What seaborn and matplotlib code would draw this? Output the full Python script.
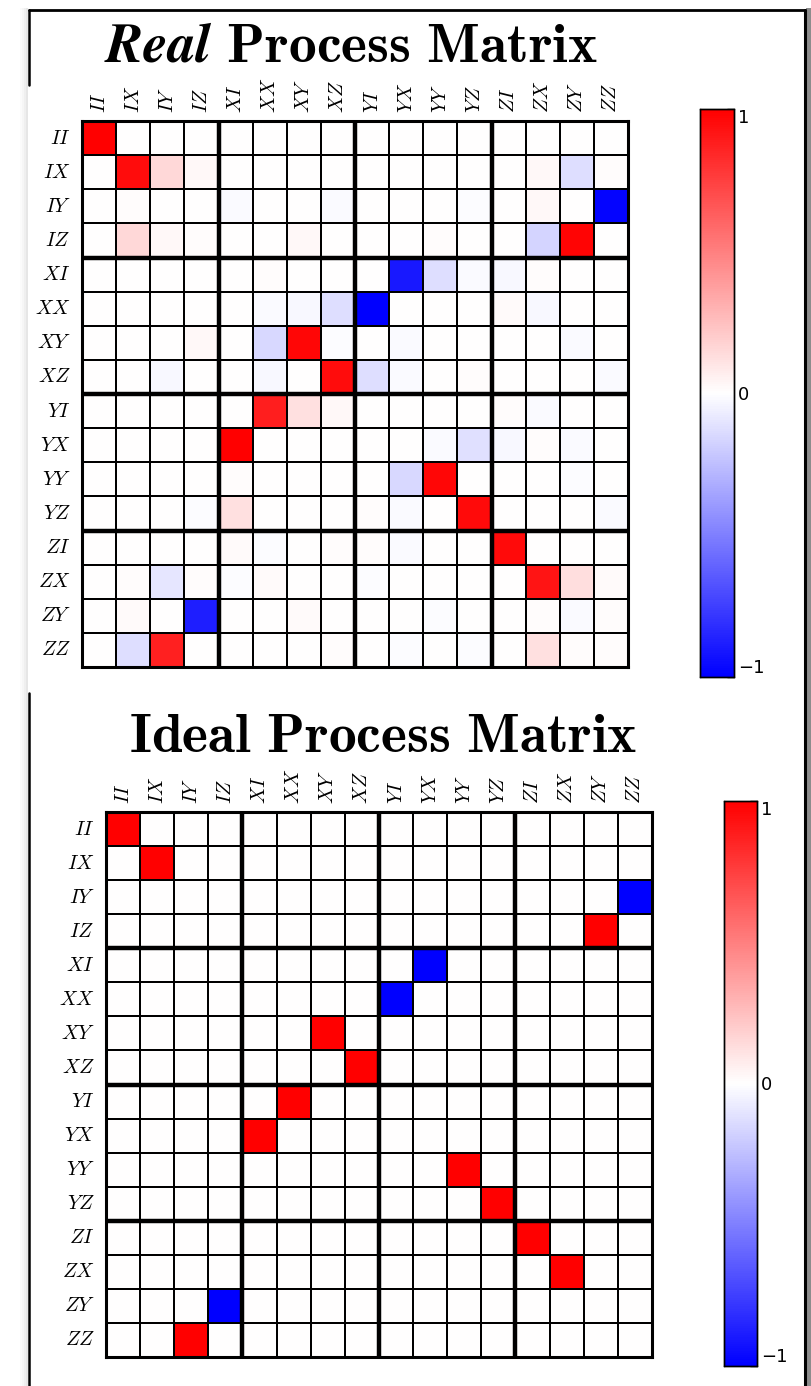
import numpy as np
import pandas as pd
import matplotlib
matplotlib.use('Agg')
import matplotlib.pyplot as plt
from matplotlib.lines import Line2D
from matplotlib.patches import Rectangle
import seaborn as sns

# Pauli basis labels
paulis = ['II', 'IX', 'IY', 'IZ', 'XI', 'XX', 'XY', 'XZ',
          'YI', 'YX', 'YY', 'YZ', 'ZI', 'ZX', 'ZY', 'ZZ']

real_rows = [
    [1.00, 0, 0, 0, 0, 0, 0, 0, 0, 0, 0, 0, 0, 0, 0, 0],
    [0, 0.95, 0.15, 0.03, 0, 0, 0, 0, 0, 0, 0, 0, 0, 0.03, -0.13, 0.01],
    [0, 0.01, 0, 0, -0.02, 0, 0, -0.02, 0, 0, 0, -0.01, 0, 0.03, 0, -0.98],
    [0, 0.15, 0.03, 0.01, 0, 0, 0.03, 0, 0, 0, 0.01, 0, 0, -0.17, 0.98, 0],
    [0, 0, 0, 0, 0, 0.01, 0, 0, 0, -0.90, -0.13, -0.02, -0.03, 0.01, 0, 0],
    [0, 0, 0, 0, 0, -0.02, -0.03, -0.13, -1.00, 0, 0, 0, 0.02, -0.03, 0, 0],
    [0, 0, 0, 0.03, 0, -0.15, 0.97, -0.01, 0, -0.02, 0, 0, 0, 0, -0.02, 0],
    [0, 0, -0.03, 0, 0, -0.03, 0, 0.95, -0.13, -0.02, 0, 0.01, 0, 0, 0, -0.02],
    [0, 0, 0, 0, 0, 0.88, 0.12, 0.03, 0, 0, 0, 0, 0.01, -0.02, 0, 0],
    [0, 0, 0, 0, 1.00, 0, 0, 0, 0, 0, -0.02, -0.12, -0.03, 0.01, -0.02, 0],
    [0, 0, 0, 0, 0.01, 0, 0, 0, 0, -0.15, 0.97, 0, 0, 0, -0.01, 0],
    [0, 0, 0, -0.01, 0.12, 0, 0, 0, 0.01, -0.02, 0, 0.96, 0, 0, 0, -0.02],
    [0, 0, 0, 0, 0.02, -0.01, 0, 0.01, 0.01, -0.02, 0, 0, 0.96, 0, 0, 0],
    [0, 0.01, -0.10, 0.01, -0.01, 0.02, 0, 0, -0.01, 0, 0, 0, 0, 0.92, 0.13, 0.02],
    [0, 0.02, 0, -0.88, 0, 0, 0.02, 0, 0, 0, -0.01, 0, 0, 0.01, -0.02, 0.01],
    [0, -0.13, 0.87, 0, 0, 0, 0, 0.01, 0, -0.01, 0, -0.01, 0, 0.12, 0.01, 0.01],
]

# ideal process matrix
ideal_rows = [
    [1, 0, 0, 0, 0, 0, 0, 0, 0, 0, 0, 0, 0, 0, 0, 0],
    [0, 1, 0, 0, 0, 0, 0, 0, 0, 0, 0, 0, 0, 0, 0, 0],
    [0, 0, 0, 0, 0, 0, 0, 0, 0, 0, 0, 0, 0, 0, 0, -1],
    [0, 0, 0, 0, 0, 0, 0, 0, 0, 0, 0, 0, 0, 0, 1, 0],
    [0, 0, 0, 0, 0, 0, 0, 0, 0, -1, 0, 0, 0, 0, 0, 0],
    [0, 0, 0, 0, 0, 0, 0, 0, -1, 0, 0, 0, 0, 0, 0, 0],
    [0, 0, 0, 0, 0, 0, 1, 0, 0, 0, 0, 0, 0, 0, 0, 0],
    [0, 0, 0, 0, 0, 0, 0, 1, 0, 0, 0, 0, 0, 0, 0, 0],
    [0, 0, 0, 0, 0, 1, 0, 0, 0, 0, 0, 0, 0, 0, 0, 0],
    [0, 0, 0, 0, 1, 0, 0, 0, 0, 0, 0, 0, 0, 0, 0, 0],
    [0, 0, 0, 0, 0, 0, 0, 0, 0, 0, 1, 0, 0, 0, 0, 0],
    [0, 0, 0, 0, 0, 0, 0, 0, 0, 0, 0, 1, 0, 0, 0, 0],
    [0, 0, 0, 0, 0, 0, 0, 0, 0, 0, 0, 0, 1, 0, 0, 0],
    [0, 0, 0, 0, 0, 0, 0, 0, 0, 0, 0, 0, 0, 1, 0, 0],
    [0, 0, 0, -1, 0, 0, 0, 0, 0, 0, 0, 0, 0, 0, 0, 0],
    [0, 0, 1, 0, 0, 0, 0, 0, 0, 0, 0, 0, 0, 0, 0, 0],
]

cbar_ticks = [-1, 0, 1]

sns.set_style('white')
plt.rcParams['mathtext.fontset'] = 'cm'
plt.rcParams['text.color'] = 'black'
plt.rcParams['xtick.color'] = 'black'
plt.rcParams['ytick.color'] = 'black'

W, H = 812, 1386
fig = plt.figure(figsize=(W / 100, H / 100), dpi=100)


def px_box(x0, y0, x1, y1):
    """pixel box (top-left origin) -> figure fraction rect"""
    return [x0 / W, 1 - y1 / H, (x1 - x0) / W, (y1 - y0) / H]


def draw_matrix(rows, hm_box, cb_box, title, title_xy):
    df = pd.DataFrame(rows, index=paulis, columns=paulis)
    ax = fig.add_axes(px_box(*hm_box))
    cax = fig.add_axes(px_box(*cb_box))
    sns.heatmap(df, ax=ax, cbar_ax=cax, cmap='bwr', vmin=-1, vmax=1,
                linewidths=1.4, linecolor='black', square=False,
                cbar_kws={'ticks': cbar_ticks})

    # block separators every 4 cells
    for k in (4, 8, 12):
        ax.axhline(k, color='black', lw=3.2)
        ax.axvline(k, color='black', lw=3.2)
    for s in ax.spines.values():
        s.set_visible(True)
        s.set_color('black')
        s.set_linewidth(2.2)

    ax.xaxis.tick_top()
    ax.set_xticklabels([f'${p}$' for p in paulis], rotation=90, fontsize=14.5)
    ax.set_yticklabels([f'${p}$' for p in paulis], rotation=0, fontsize=14.5)
    ax.tick_params(axis='x', direction='in', length=4, width=0.8,
                   top=True, bottom=False, pad=6)
    ax.tick_params(axis='y', direction='in', length=0, pad=8)
    ax.set_xlabel('')
    ax.set_ylabel('')

    cax.tick_params(direction='in', length=5, width=1, labelsize=13, pad=3,
                    colors='black')
    cax.set_yticklabels(['\u22121', '0', '1'])
    cax.yaxis.get_majorticklabels()[0].set_verticalalignment('bottom')
    cax.yaxis.get_majorticklabels()[2].set_verticalalignment('top')
    for s in cax.spines.values():
        s.set_visible(True)
        s.set_color('black')
        s.set_linewidth(1.0)

    fig.text(title_xy[0] / W, 1 - title_xy[1] / H, title, color='black',
             ha='center', va='center', fontsize=40)


draw_matrix(real_rows, (82, 121, 628, 667), (700, 109, 734, 677),
            r'$\mathbfit{Real}\ \mathbf{Process\ Matrix}$', (351, 46))
draw_matrix(ideal_rows, (106, 812, 652, 1357), (724, 801, 757, 1366),
            r'$\mathbf{Ideal\ Process\ Matrix}$', (383, 737))

# window frame around the pasted figures, with a soft shadow
for i, g in enumerate(['#fbfbfb', '#f6f6f6', '#efefef', '#e6e6e6']):
    fig.add_artist(Rectangle(((20 + 2 * i) / W, 0), (8 - 2 * i) / W, 1 - 8 / H,
                             transform=fig.transFigure, color=g, lw=0, zorder=0))
fig.add_artist(Rectangle((806 / W, 0), 6 / W, 1 - 8 / H, transform=fig.transFigure,
                         color='#8c8c8c', lw=0, zorder=0))
frame = dict(color='black', transform=fig.transFigure)
fig.add_artist(Line2D([29 / W, 805 / W], [1 - 10 / H, 1 - 10 / H], lw=2, **frame))
fig.add_artist(Line2D([805 / W, 805 / W], [1 - 10 / H, 0], lw=2.2, **frame))
fig.add_artist(Line2D([29 / W, 29 / W], [1 - 10 / H, 1 - 85 / H], lw=1.8, **frame))
fig.add_artist(Line2D([29 / W, 29 / W], [1 - 693 / H, 0], lw=1.8, **frame))

plt.savefig('out.png', dpi=100, facecolor='white')
